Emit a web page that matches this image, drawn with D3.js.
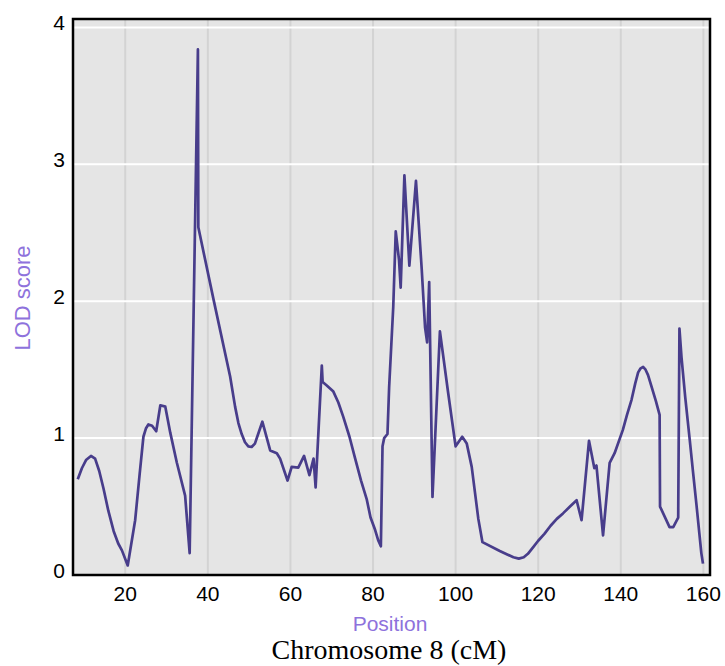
<!DOCTYPE html>
<html>
<head>
<meta charset="utf-8">
<script src="https://cdn.jsdelivr.net/npm/d3@7"></script>
<style>
  body { margin: 0; background: #fff; }
  svg text { font-family: "Liberation Sans", Arial, sans-serif; }
</style>
</head>
<body>
<svg id="chart" width="725" height="666"></svg>
<script>
// LOD profile, chromosome 8 (position in cM, LOD)
const positions = [8.5, 9.5, 10.5, 11.7, 12.7, 13.7, 14.75, 15.9, 17.2, 18.3, 19.2, 20.6, 22.4, 23.5, 24.4, 25.0, 25.6, 26.5, 27.5, 28.5, 29.7, 30.9, 32.5, 34.5, 35.6,
  37.6, 37.7, 41.4, 45.4, 46.6, 47.4, 48.2, 49.0, 49.8, 50.6, 51.4, 53.2, 55.1, 56.7, 57.5, 59.3, 60.3, 61.9, 63.3, 64.6, 65.6, 66.1,
  67.6, 67.8, 68.8, 70.4, 71.6, 72.8, 74.3, 75.6, 77.1, 78.5, 79.4, 80.5, 81.3, 81.9, 82.3, 82.7, 83.5, 83.9, 84.9, 85.5, 86.3, 86.7, 87.6, 88.8,
  90.4, 91.8, 92.6, 93.1, 93.6, 94.4, 96.2, 98.2, 100.0, 101.6, 102.7, 103.9, 104.7, 105.5, 106.5, 110.7, 112.5, 114.0, 115.3, 116.5, 117.5, 118.7,
  120.0, 121.5, 123.0, 124.5, 126.0, 127.7, 129.3, 130.5, 132.3, 133.6, 134.1, 135.7, 137.3, 138.5, 140.5, 141.5, 142.6, 143.5, 144.2, 144.8, 145.4, 146.0, 146.6,
  147.5, 148.5, 149.4, 149.5, 151.8, 152.7, 153.9, 154.2, 154.7, 155.6, 156.7, 157.5, 158.3, 159.0, 159.5, 159.9];
const lod = [0.70, 0.78, 0.84, 0.87, 0.85, 0.76, 0.63, 0.47, 0.32, 0.23, 0.18, 0.07, 0.40, 0.74, 1.01, 1.07, 1.10, 1.09, 1.05, 1.24, 1.23, 1.04, 0.82, 0.58, 0.16,
  3.84, 2.54, 2.01, 1.45, 1.23, 1.11, 1.03, 0.97, 0.94, 0.935, 0.96, 1.12, 0.91, 0.89, 0.85, 0.69, 0.79, 0.785, 0.87, 0.73, 0.85, 0.64,
  1.53, 1.41, 1.385, 1.34, 1.26, 1.155, 1.01, 0.86, 0.69, 0.55, 0.42, 0.33, 0.25, 0.21, 0.94, 1.00, 1.03, 1.37, 1.96, 2.51, 2.30, 2.10, 2.92, 2.26,
  2.88, 2.23, 1.81, 1.70, 2.14, 0.57, 1.78, 1.33, 0.94, 1.01, 0.96, 0.79, 0.60, 0.41, 0.24, 0.175, 0.15, 0.13, 0.12, 0.13, 0.155, 0.2,
  0.25, 0.30, 0.36, 0.41, 0.45, 0.50, 0.546, 0.40, 0.98, 0.78, 0.80, 0.29, 0.82, 0.89, 1.06, 1.17, 1.28, 1.40, 1.48, 1.51, 1.52, 1.50, 1.46,
  1.37, 1.27, 1.17, 0.50, 0.35, 0.35, 0.42, 1.80, 1.59, 1.30, 0.985, 0.75, 0.52, 0.31, 0.16, 0.083];
const xTicks = [20, 40, 60, 80, 100, 120, 140, 160];
const yTicks = [0, 1, 2, 3, 4];

const svg = d3.select("#chart");
const m = { left: 73, right: 710, top: 19, bottom: 575 };

const x = d3.scaleLinear().domain([7.35, 161.6]).range([m.left, m.right]);
const y = d3.scaleLinear().domain([0, 4.062]).range([m.bottom, m.top]);

// panel background
svg.append("rect")
  .attr("x", m.left).attr("y", m.top)
  .attr("width", m.right - m.left).attr("height", m.bottom - m.top)
  .attr("fill", "#e5e5e5");

// vertical grid lines
svg.append("g").selectAll("line")
  .data(xTicks).join("line")
  .attr("x1", d => x(d)).attr("x2", d => x(d))
  .attr("y1", m.top).attr("y2", m.bottom)
  .attr("stroke", "#d3d3d3").attr("stroke-width", 2);

// horizontal grid lines
svg.append("g").selectAll("line")
  .data(yTicks.filter(d => d > 0)).join("line")
  .attr("x1", m.left).attr("x2", m.right)
  .attr("y1", d => y(d)).attr("y2", d => y(d))
  .attr("stroke", "#fff").attr("stroke-width", 2);

// lod curve
const pts = positions.map((p, i) => [p, lod[i]]);
svg.append("path")
  .datum(pts)
  .attr("fill", "none")
  .attr("stroke", "#483d8b")
  .attr("stroke-width", 2.7)
  .attr("stroke-linejoin", "round")
  .attr("d", d3.line().x(d => x(d[0])).y(d => y(d[1])));

// frame
svg.append("rect")
  .attr("x", m.left).attr("y", m.top)
  .attr("width", m.right - m.left).attr("height", m.bottom - m.top)
  .attr("fill", "none").attr("stroke", "#000").attr("stroke-width", 2.5);

// tick labels
svg.append("g").selectAll("text")
  .data(xTicks).join("text")
  .attr("x", d => x(d)).attr("y", 601)
  .attr("text-anchor", "middle")
  .attr("font-size", 21).attr("fill", "#000")
  .text(d => d);

svg.append("g").selectAll("text")
  .data(yTicks).join("text")
  .attr("x", 65).attr("y", d => y(d) + 2.5)
  .attr("text-anchor", "end")
  .attr("font-size", 21).attr("fill", "#000")
  .text(d => d);

// axis titles
svg.append("text")
  .attr("x", 390).attr("y", 631)
  .attr("text-anchor", "middle")
  .attr("font-size", 21).attr("fill", "#8e72dc")
  .text("Position");

svg.append("text")
  .attr("transform", "translate(30,298) rotate(-90)")
  .attr("text-anchor", "middle")
  .attr("font-size", 22).attr("fill", "#8e72dc")
  .text("LOD score");

svg.append("text")
  .attr("x", 389).attr("y", 659)
  .attr("text-anchor", "middle")
  .style("font-family", "'Liberation Serif', 'Times New Roman', serif")
  .attr("font-size", 28).attr("fill", "#000")
  .text("Chromosome 8 (cM)");
</script>
</body>
</html>
